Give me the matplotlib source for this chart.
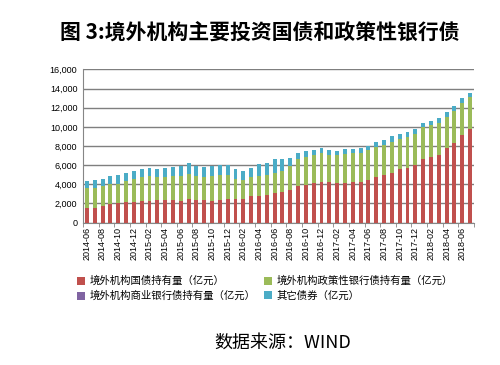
import matplotlib
matplotlib.use('Agg')
import matplotlib.pyplot as plt
import numpy as np
from matplotlib.patches import Patch

plt.rcParams['font.family'] = ['Noto Sans CJK SC', 'DejaVu Sans']

# 月份 2014-06 ~ 2018-07
meses = []
for ano in range(2014, 2019):
    for m in range(1, 13):
        if (ano == 2014 and m < 6) or (ano == 2018 and m > 7):
            continue
        meses.append(f'{ano}-{m:02d}')

# 数据（亿元）
guozhai = [1570, 1530, 1770, 1980, 2020, 2160, 2190, 2260, 2300, 2330,
           2370, 2400, 2300, 2440, 2400, 2330, 2300, 2370, 2500, 2500,
           2500, 2820, 2820, 2920, 3130, 3240, 3440, 3860, 3930, 4140,
           4240, 4240, 4140, 4140, 4240, 4240, 4450, 4800, 4970, 5220,
           5570, 5740, 6020, 6680, 6890, 7100, 7830, 8350, 9150, 9810]
zhengce = [2050, 2090, 2050, 2050, 2050, 2230, 2400, 2540, 2540, 2470,
           2400, 2440, 2570, 2680, 2500, 2440, 2540, 2610, 2470, 2050,
           1950, 1910, 2090, 2050, 2100, 2160, 2510, 2780, 2960, 2920,
           3030, 2780, 2890, 2990, 2990, 2990, 3130, 3080, 3100, 3230,
           3160, 3200, 3270, 3270, 3270, 3300, 3230, 3300, 3340, 3300]
shangye = [0] * 50
qita = [730, 800, 770, 870, 900, 800, 800, 840, 840, 800,
        900, 940, 1040, 1080, 1040, 1080, 1080, 1010, 1010, 1010,
        970, 970, 1180, 1290, 1410, 1250, 800, 590, 560, 520,
        520, 520, 450, 520, 450, 520, 420, 540, 560, 560,
        490, 490, 490, 450, 490, 490, 490, 490, 490, 450]

series = [
    ('境外机构国债持有量（亿元）', guozhai, '#C0504D'),
    ('境外机构政策性银行债持有量（亿元）', zhengce, '#9BBB59'),
    ('境外机构商业银行债持有量（亿元）', shangye, '#8064A2'),
    ('其它债券（亿元）', qita, '#4BACC6'),
]

fig = plt.figure(figsize=(5, 3.65), dpi=100)
ax = fig.add_axes([0.166, 0.39, 0.782, 0.42])

x = np.arange(len(meses))
base = np.zeros(len(meses))
for nome, vals, cor in series:
    ax.bar(x, vals, 0.5, bottom=base, color=cor, zorder=3)
    base += np.array(vals)

ax.set_xlim(-0.5, len(meses) - 0.5)
ax.set_ylim(0, 16000)
ax.set_yticks(range(0, 16001, 2000))
ax.set_yticklabels([f'{v:,}' for v in range(0, 16001, 2000)],
                   fontsize=6.5, family='Liberation Sans')
ax.set_xticks(x[::2])
ax.set_xticklabels(meses[::2], rotation=90, fontsize=6.5, family='Liberation Sans')
ax.set_xticks(np.arange(-0.5, len(meses), 2), minor=True)
ax.tick_params(axis='x', which='major', length=0, pad=3)
ax.tick_params(axis='x', which='minor', length=3, color='#868686')
ax.tick_params(axis='y', length=0, pad=4)
ax.grid(axis='y', color='#7f7f7f', linewidth=1, zorder=0)
for s in ['top', 'right']:
    ax.spines[s].set_visible(False)
ax.spines['left'].set_color('#868686')
ax.spines['bottom'].set_color('#868686')

fig.text(0.52, 0.91, '图 3:境外机构主要投资国债和政策性银行债', ha='center', va='center',
         fontsize=15, fontweight='bold')

# 图例按行排列：国债、政策性 / 商业、其它
ordem = [0, 2, 1, 3]
handles = [Patch(facecolor=series[i][2], label=series[i][0]) for i in ordem]
fig.legend(handles=handles, ncol=2, loc='upper left', bbox_to_anchor=(0.135, 0.27),
           frameon=False, fontsize=7.5, handlelength=0.8, handleheight=0.8,
           handletextpad=0.4, columnspacing=0.8, labelspacing=0.45)

fig.text(0.565, 0.06, '数据来源：WIND', ha='center', va='center', fontsize=13)

fig.savefig('out.png', dpi=100)
